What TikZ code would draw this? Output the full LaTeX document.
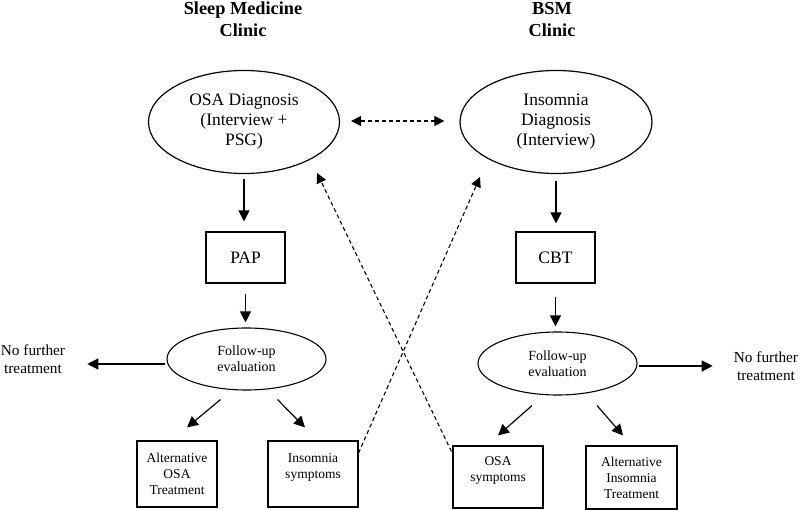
\documentclass[tikz,border=0pt]{standalone}
\usepackage{fontspec}
\setmainfont{Liberation Serif}
\usetikzlibrary{shapes.geometric,arrows.meta}
\begin{document}
\begin{tikzpicture}[x=1pt,y=-1pt,
  every node/.style={align=center},
  title/.style={font=\fontsize{18.3}{22}\selectfont\bfseries},
  bigell/.style={ellipse, draw, line width=1.2pt, inner sep=0pt, font=\fontsize{17.5}{20}\selectfont},
  smallell/.style={ellipse, draw, line width=1.1pt, inner sep=0pt, font=\fontsize{14}{16}\selectfont},
  bigbox/.style={draw, line width=1.1pt, inner sep=0pt, font=\fontsize{17.5}{20}\selectfont},
  smallbox/.style={draw, line width=1.1pt, inner sep=0pt, font=\fontsize{13.5}{16}\selectfont},
  plain/.style={inner sep=0pt, font=\fontsize{15.3}{18}\selectfont},
  arr/.style={line width=1.2pt, -{Triangle[length=11pt,width=11pt]}},
  darr/.style={line width=1.1pt, dash pattern=on 4pt off 3pt, -{Triangle[length=10pt,width=10pt]}},
  ddarr/.style={line width=1.1pt, dash pattern=on 4pt off 3pt, {Triangle[length=10pt,width=10pt]}-{Triangle[length=10pt,width=10pt]}}
]
\useasboundingbox (0,0) rectangle (800,510);

% titles
\node[title] (t1) at (243,19) {Sleep Medicine\\Clinic};
\node[title] (t2) at (552,20) {BSM\\Clinic};

% left column
\node[bigell, minimum width=191pt, minimum height=103pt] (d1) at (244,122) {OSA Diagnosis\\(Interview +\\PSG)};
\node[bigbox, minimum width=79pt, minimum height=51pt] (pap) at (245.5,257.5) {PAP};
\node[smallell, minimum width=159pt, minimum height=62pt] (fu1) at (246.5,359) {Follow-up\\evaluation};
\node[plain] (nf1) at (33,359) {No further\\treatment};
\node[smallbox, minimum width=80pt, minimum height=66pt] (alt1) at (177,474) {Alternative\\OSA\\Treatment};
\node[smallbox, minimum width=90pt, minimum height=66pt] (ins) at (313,474) {Insomnia\\symptoms\\~};

% right column
\node[bigell, minimum width=192pt, minimum height=103pt] (d2) at (556,122) {Insomnia\\Diagnosis\\(Interview)};
\node[bigbox, minimum width=79pt, minimum height=51pt] (cbt) at (555.5,257.5) {CBT};
\node[smallell, minimum width=159pt, minimum height=63pt] (fu2) at (557.5,363.5) {Follow-up\\evaluation};
\node[plain] (nf2) at (766,366) {No further\\treatment};
\node[smallbox, minimum width=90pt, minimum height=62pt] (osa) at (498,477) {OSA\\symptoms\\~};
\node[smallbox, minimum width=91pt, minimum height=63pt] (alt2) at (631.5,477.5) {Alternative\\Insomnia\\Treatment};

% left arrows
\draw[arr, shorten <=5pt, shorten >=10pt] (d1.south) -- (d1.south |- pap.north);
\draw[arr, shorten <=10pt, shorten >=5pt] (pap.south) -- (pap.south |- fu1.north);
\draw[arr] ([shift={(-1,5)}]fu1.west) -- ([shift={(22,5)}]nf1.east);
\draw[arr] ([shift={(-26,9)}]fu1.south) -- ([shift={(10,-13)}]alt1.north);
\draw[arr] ([shift={(31,9)}]fu1.south) -- ([shift={(-8,-13)}]ins.north);

% right arrows
\draw[arr, shorten <=7pt, shorten >=8pt] (d2.south) -- (d2.south |- cbt.north);
\draw[arr, shorten <=13pt, shorten >=5pt] (cbt.south) -- (cbt.south |- fu2.north);
\draw[arr] ([shift={(1,2.5)}]fu2.east) -- ([shift={(-21,0)}]nf2.west);
\draw[arr] ([shift={(-25.5,10)}]fu2.south) -- ([shift={(0,-10)}]osa.north);
\draw[arr] ([shift={(39.5,10)}]fu2.south) -- ([shift={(-8.5,-10)}]alt2.north);

% dashed connectors
\draw[ddarr] ([shift={(11,-1)}]d1.east) -- ([shift={(-15,-1)}]d2.west);
\draw[darr] ([shift={(0,-21)}]ins.east) -- ([shift={(-76,55)}]d2.center);
\draw[darr] ([shift={(-1,6)}]osa.north west) -- ([shift={(73,51)}]d1.center);
\end{tikzpicture}
\end{document}
